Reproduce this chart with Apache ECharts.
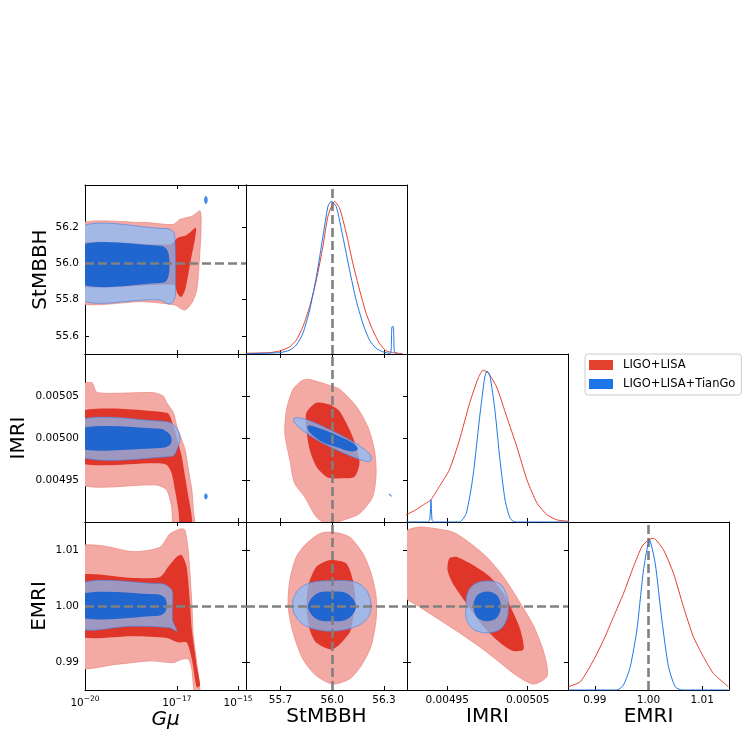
<!DOCTYPE html>
<html>
<head>
<meta charset="utf-8">
<script src="https://cdn.jsdelivr.net/npm/echarts@6/dist/echarts.min.js"></script>
<style>
html, body { margin: 0; padding: 0; background: #fff; }
#main { width: 747px; height: 747px; }
</style>
</head>
<body>
<div id="main"></div>
<script>
// axis ranges and ticks
var gmuRange = [-20, -14.74];
var stmbbhRange = [55.5, 56.433];
var imriRange = [0.0049, 0.0051];
var emriRange = [0.985, 1.015];
var densityRange = [0, 1.107];

var gmuTicks = [-20, -17, -15];
var stmbbhXTicks = [55.7, 56.0, 56.3];
var stmbbhYTicks = [55.6, 55.8, 56.0, 56.2];
var imriXTicks = [0.00495, 0.00505];
var imriYTicks = [0.00495, 0.005, 0.00505];
var emriTicks = [0.99, 1.0, 1.01];

var truthStmbbh = 56.0;
var truthImri = 0.005;
var truthEmri = 1.0;

// Gμ (log10) x StMBBH contours
var gmuStmbbhRed2 = [[-20.3,56.206],[-18.10,56.226],[-17.12,56.215],[-16.90,56.243],[-16.50,56.261],[-16.24,56.289],[-16.21,56.187],[-16.27,56.004],[-16.35,55.854],[-16.51,55.782],[-16.73,55.743],[-16.90,55.754],[-17.06,55.771],[-18.10,55.789],[-20.3,55.794]];
var gmuStmbbhRed1 = [[-20.3,56.104],[-17.22,56.104],[-16.96,56.143],[-16.70,56.154],[-16.47,56.187],[-16.37,56.198],[-16.41,56.132],[-16.54,56.021],[-16.63,55.937],[-16.73,55.854],[-16.86,55.815],[-16.99,55.837],[-17.09,55.882],[-20.3,55.882]];
var gmuStmbbhBlue2 = [[-20.3,56.187],[-17.39,56.193],[-17.12,56.176],[-17.06,56.132],[-17.04,55.854],[-17.09,55.798],[-17.25,55.776],[-17.55,55.798],[-20.3,55.815]];
var gmuStmbbhBlue1 = [[-20.3,56.093],[-17.55,56.098],[-17.32,56.076],[-17.24,56.009],[-17.29,55.921],[-17.45,55.893],[-20.3,55.893]];
var gmuStmbbhBlueIsland = [[-16.05,56.372],[-16.0,56.36],[-16.0,56.34],[-16.05,56.328],[-16.1,56.34],[-16.1,56.36]];

// Gμ x IMRI contours
var gmuImriRed2 = [[-20.3,0.005060],[-19.78,0.005066],[-19.6,0.005054],[-17.78,0.005054],[-17.45,0.005050],[-17.33,0.005042],[-17.11,0.005030],[-17.00,0.005014],[-16.84,0.004998],[-16.73,0.004986],[-16.62,0.004962],[-16.51,0.004938],[-16.46,0.004914],[-16.41,0.004880],[-17.06,0.004880],[-17.17,0.004918],[-17.33,0.004938],[-17.66,0.004944],[-20.3,0.004948]];
var gmuImriRed1 = [[-20.3,0.005030],[-17.33,0.005030],[-17.11,0.005014],[-16.95,0.004994],[-16.84,0.004978],[-16.73,0.004954],[-16.62,0.004930],[-16.51,0.004906],[-16.50,0.004880],[-16.84,0.004880],[-16.95,0.004914],[-17.06,0.004938],[-17.17,0.004958],[-17.33,0.004968],[-17.66,0.004970],[-20.3,0.004972]];
var gmuImriBlue2 = [[-20.3,0.005020],[-17.45,0.005020],[-17.11,0.005016],[-16.90,0.005002],[-17.00,0.004986],[-17.17,0.004978],[-20.3,0.004979]];
var gmuImriBlue1 = [[-20.3,0.005011],[-17.55,0.005011],[-17.25,0.005005],[-17.17,0.004998],[-17.25,0.004991],[-17.55,0.004988],[-20.3,0.004988]];
var gmuImriBlueIsland = [[-16.05,0.004934],[-16.0,0.004932],[-16.0,0.004929],[-16.05,0.004927],[-16.1,0.004929],[-16.1,0.004932]];

// Gμ x EMRI contours
var gmuEmriRed2 = [[-20.3,1.0103],[-19.51,1.0108],[-18.42,1.0097],[-17.55,1.0105],[-17.22,1.0129],[-16.84,1.0138],[-16.73,1.0135],[-16.62,1.0094],[-16.51,1.0005],[-16.46,0.9946],[-16.35,0.9899],[-16.24,0.9840],[-16.41,0.9840],[-16.51,0.9887],[-16.62,0.9905],[-16.84,0.9905],[-17.11,0.9899],[-17.88,0.9902],[-18.96,0.9896],[-20.3,0.9893]];
var gmuEmriRed1 = [[-20.3,1.0052],[-18.42,1.0050],[-17.55,1.0052],[-17.28,1.0070],[-17.00,1.0088],[-16.84,1.0091],[-16.68,1.0070],[-16.57,1.0005],[-16.51,0.9958],[-16.41,0.9917],[-16.35,0.9893],[-16.24,0.9858],[-16.35,0.9855],[-16.51,0.9905],[-16.68,0.9935],[-16.95,0.9935],[-17.33,0.9943],[-18.42,0.9946],[-20.3,0.9949]];
var gmuEmriBlue2 = [[-20.3,1.0037],[-17.55,1.0040],[-17.28,1.0035],[-17.14,1.0025],[-17.14,0.9976],[-17.00,0.9955],[-17.22,0.9961],[-18.42,0.9964],[-20.3,0.9963]];
var gmuEmriBlue1 = [[-20.3,1.0020],[-17.66,1.0021],[-17.40,1.0015],[-17.33,1.0002],[-17.40,0.9988],[-17.66,0.9982],[-20.3,0.9981]];

// StMBBH x IMRI contours
var stmbbhImriRed2 = [[55.859,0.0050699],[55.965,0.0050639],[56.042,0.0050580],[56.138,0.0050379],[56.205,0.0050139],[56.244,0.0049860],[56.254,0.0049580],[56.234,0.0049300],[56.158,0.0049101],[56.061,0.0049020],[55.984,0.0048960],[55.908,0.0049060],[55.840,0.0049300],[55.782,0.0049460],[55.754,0.0049740],[55.725,0.0050060],[55.735,0.0050339],[55.773,0.0050579],[55.821,0.0050679]];
var stmbbhImriRed1 = [[55.908,0.0050420],[55.984,0.0050399],[56.042,0.0050319],[56.100,0.0050100],[56.138,0.0049899],[56.158,0.0049700],[56.129,0.0049540],[56.061,0.0049520],[56.003,0.0049520],[55.965,0.0049540],[55.908,0.0049659],[55.869,0.0049860],[55.850,0.0050100],[55.850,0.0050300]];
var stmbbhImriBlue2 = [[55.782,0.0050240],[55.850,0.0050219],[55.965,0.0050120],[56.081,0.0050000],[56.177,0.0049880],[56.225,0.0049779],[56.215,0.0049719],[56.138,0.0049760],[56.023,0.0049860],[55.908,0.0049980],[55.811,0.0050120],[55.777,0.0050199]];
var stmbbhImriBlue1 = [[55.859,0.0050147],[55.946,0.0050100],[56.042,0.0050019],[56.119,0.0049940],[56.148,0.0049868],[56.110,0.0049839],[56.023,0.0049892],[55.937,0.0049959],[55.869,0.0050067]];
var stmbbhImriBlueIsland = [[56.330,0.0049340],[56.345,0.0049310],[56.342,0.0049300],[56.327,0.0049330]];

// StMBBH x EMRI contours
var stmbbhEmriRed2 = [[56.003,1.01320],[56.100,1.01232],[56.177,1.00938],[56.225,1.00584],[56.254,1.00170],[56.254,0.99758],[56.225,0.99285],[56.167,0.98931],[56.100,0.98696],[56.003,0.98607],[55.908,0.98754],[55.830,0.99050],[55.773,0.99522],[55.744,0.99993],[55.754,1.00465],[55.792,1.00878],[55.850,1.01115],[55.927,1.01292]];
var stmbbhEmriRed1 = [[55.984,1.00819],[56.081,1.00761],[56.119,1.00465],[56.134,1.00112],[56.119,0.99758],[56.100,0.99522],[56.003,0.99227],[55.908,0.99345],[55.869,0.99581],[55.852,0.99935],[55.859,1.00347],[55.908,1.00701]];
var stmbbhEmriBlue2 = [[56.003,1.00453],[56.129,1.00430],[56.196,1.00288],[56.225,1.00023],[56.205,0.99788],[56.138,0.99634],[56.003,0.99550],[55.869,0.99611],[55.801,0.99758],[55.769,0.99993],[55.794,1.00253],[55.869,1.00412]];
var stmbbhEmriBlue1 = [[56.0,1.00258],[56.088,1.00218],[56.138,0.99993],[56.088,0.99766],[56.0,0.99727],[55.909,0.99766],[55.859,0.99993],[55.909,1.00218]];

// IMRI x EMRI contours
var imriEmriRed2 = [[0.0048950,1.01292],[0.0049147,1.01409],[0.0049358,1.01381],[0.0049567,1.01320],[0.0049736,1.01173],[0.0049987,1.00878],[0.0050196,1.00524],[0.0050407,1.00053],[0.0050574,0.99639],[0.0050700,0.99168],[0.0050743,0.98754],[0.0050574,0.98607],[0.0050365,0.98754],[0.0050155,0.98991],[0.0049945,0.99227],[0.0049651,0.99522],[0.0049399,0.99758],[0.0049147,0.99993],[0.0048950,1.00200]];
var imriEmriRed1 = [[0.0049525,1.00850],[0.0049610,1.00878],[0.0049819,1.00731],[0.0050029,1.00524],[0.0050196,1.00230],[0.0050322,0.99876],[0.0050407,0.99581],[0.0050448,0.99227],[0.0050322,0.99196],[0.0050155,0.99345],[0.0049945,0.99639],[0.0049736,1.00053],[0.0049567,1.00407],[0.0049504,1.00643]];
var imriEmriBlue2 = [[0.0049995,1.00448],[0.0050155,1.00395],[0.0050239,1.00200],[0.0050259,0.99993],[0.0050239,0.99758],[0.0050155,0.99581],[0.0049995,0.99522],[0.0049827,0.99581],[0.0049739,0.99758],[0.0049733,0.99993],[0.0049752,1.00235],[0.0049840,1.00395]];
var imriEmriBlue1 = [[0.0049995,1.00258],[0.0050117,1.00191],[0.0050165,0.99993],[0.0050117,0.99795],[0.0049995,0.99727],[0.0049873,0.99795],[0.0049825,0.99993],[0.0049873,1.00191]];

// 1D marginals (peak normalised to 1)
var stmbbhRed = [[55.504,0.005],[55.638,0.009],[55.696,0.020],[55.754,0.048],[55.792,0.092],[55.830,0.179],[55.869,0.311],[55.908,0.486],[55.946,0.705],[55.975,0.902],[56.013,1.0],[56.042,0.957],[56.081,0.792],[56.119,0.595],[56.158,0.420],[56.196,0.267],[56.234,0.158],[56.273,0.070],[56.311,0.022],[56.350,0.009],[56.407,0.002]];
var stmbbhBlue = [[55.504,0.002],[55.696,0.009],[55.754,0.026],[55.792,0.059],[55.830,0.136],[55.869,0.289],[55.908,0.508],[55.946,0.770],[55.975,0.967],[55.994,1.0],[56.023,0.967],[56.061,0.770],[56.100,0.551],[56.138,0.354],[56.177,0.201],[56.215,0.092],[56.254,0.037],[56.292,0.015],[56.331,0.004],[56.340,0.009],[56.346,0.179],[56.354,0.179],[56.360,0.015],[56.379,0.002]];
var imriRed = [[0.0048984,0.046],[0.0049106,0.079],[0.0049232,0.123],[0.0049295,0.145],[0.0049399,0.232],[0.0049525,0.342],[0.0049651,0.539],[0.0049777,0.781],[0.0049882,0.945],[0.0049945,1.0],[0.0050008,0.982],[0.0050113,0.890],[0.0050239,0.693],[0.0050365,0.495],[0.0050491,0.276],[0.0050617,0.123],[0.0050743,0.046],[0.0050869,0.013],[0.0051011,0.005]];
var imriBlue = [[0.0048984,0],[0.0049252,0],[0.0049282,0.013],[0.0049298,0.145],[0.0049311,0.013],[0.0049333,0],[0.0049651,0],[0.0049736,0.057],[0.0049819,0.298],[0.0049903,0.693],[0.0049966,0.956],[0.0049995,0.995],[0.0050029,0.967],[0.0050092,0.737],[0.0050155,0.408],[0.0050218,0.145],[0.0050281,0.024],[0.0050344,0],[0.0051011,0]];
var emriRed = [[0.98507,0.022],[0.98730,0.055],[0.98978,0.198],[0.99164,0.330],[0.99349,0.483],[0.99535,0.637],[0.99721,0.813],[0.99877,0.945],[1.0,0.989],[1.00093,1.0],[1.00279,0.923],[1.00465,0.769],[1.00651,0.549],[1.00836,0.351],[1.01022,0.220],[1.01208,0.110],[1.01487,0.022]];
var emriBlue = [[0.98507,0],[0.99413,0],[0.99535,0.033],[0.99660,0.154],[0.99784,0.396],[0.99907,0.791],[1.00019,0.989],[1.00125,0.835],[1.00249,0.461],[1.00372,0.154],[1.00496,0.022],[1.00621,0],[1.01487,0]];

var FONT = 'DejaVu Sans';
var RED_LIGHT = '#f4aaa4', RED_DARK = '#e0362a';
var BLUE_LIGHT = 'rgba(132,190,252,0.72)', BLUE_DARK = '#2165cf';
var RED_LINE = '#e3402e', BLUE_LINE = '#1c75e6';

var params = {
    gmu: { range: gmuRange, xTicks: gmuTicks, name: 'Gμ', italic: true,
        fmt: function (v) { return '{b|10}{s|−' + Math.abs(v) + '}'; } },
    stmbbh: { range: stmbbhRange, xTicks: stmbbhXTicks, yTicks: stmbbhYTicks, name: 'StMBBH', gap: 34,
        fmt: function (v) { return v.toFixed(1); } },
    imri: { range: imriRange, xTicks: imriXTicks, yTicks: imriYTicks, name: 'IMRI', gap: 56,
        fmt: function (v) { return v.toFixed(5); } },
    emri: { range: emriRange, xTicks: emriTicks, yTicks: emriTicks, name: 'EMRI', gap: 35,
        fmt: function (v) { return v.toFixed(2); } }
};

var colX = [85, 246, 407, 568];
var rowY = [185, 354, 522];
var rowH = [169, 168, 168];

var panels = [
    { r: 0, c: 0, x: 'gmu', y: 'stmbbh' },
    { r: 0, c: 1, x: 'stmbbh', y: null },
    { r: 1, c: 0, x: 'gmu', y: 'imri' },
    { r: 1, c: 1, x: 'stmbbh', y: 'imri' },
    { r: 1, c: 2, x: 'imri', y: null },
    { r: 2, c: 0, x: 'gmu', y: 'emri' },
    { r: 2, c: 1, x: 'stmbbh', y: 'emri' },
    { r: 2, c: 2, x: 'imri', y: 'emri' },
    { r: 2, c: 3, x: 'emri', y: null }
];

var grids = [], xAxes = [], yAxes = [], series = [];
var tickStyle = { color: '#000', width: 1 };
var gmuRich = {
    b: { fontFamily: FONT, fontSize: 10.5, color: '#000', verticalAlign: 'bottom', padding: [3, 0, 0, 0] },
    s: { fontFamily: FONT, fontSize: 7.5, color: '#000', verticalAlign: 'top' }
};

panels.forEach(function (p, g) {
    grids.push({ left: colX[p.c], top: rowY[p.r], width: 161, height: rowH[p.r], containLabel: false });
    var P = params[p.x];
    var diag = p.y === null;
    ['bottom', 'top'].forEach(function (pos) {
        var bottom = pos === 'bottom';
        var label = bottom && p.r === 2;
        xAxes.push({
            type: 'value', gridIndex: g, position: pos, min: P.range[0], max: P.range[1],
            axisLine: { show: true, onZero: false, lineStyle: tickStyle },
            axisTick: { show: bottom || !diag, inside: true, length: 4, customValues: P.xTicks, lineStyle: tickStyle },
            axisLabel: { show: label, customValues: P.xTicks, formatter: P.fmt, fontFamily: FONT, fontSize: 10.5,
                color: '#000', margin: 5, rich: gmuRich },
            splitLine: { show: false },
            name: label ? P.name : '', nameLocation: 'middle', nameGap: 17,
            nameTextStyle: { fontFamily: FONT, fontSize: 20, color: '#000', fontStyle: P.italic ? 'italic' : 'normal' }
        });
    });
    ['left', 'right'].forEach(function (pos) {
        var left = pos === 'left';
        if (diag) {
            yAxes.push({
                type: 'value', gridIndex: g, position: pos, min: densityRange[0], max: densityRange[1],
                axisLine: { show: true, onZero: false, lineStyle: tickStyle },
                axisTick: { show: false }, axisLabel: { show: false }, splitLine: { show: false }
            });
            return;
        }
        var Q = params[p.y];
        var label = left && p.c === 0;
        yAxes.push({
            type: 'value', gridIndex: g, position: pos, min: Q.range[0], max: Q.range[1],
            axisLine: { show: true, onZero: false, lineStyle: tickStyle },
            axisTick: { show: true, inside: true, length: 4, customValues: Q.yTicks, lineStyle: tickStyle },
            axisLabel: { show: label, customValues: Q.yTicks, formatter: Q.fmt, fontFamily: FONT, fontSize: 10.5,
                color: '#000', margin: 6 },
            splitLine: { show: false },
            name: label ? Q.name : '', nameLocation: 'middle', nameGap: Q.gap,
            nameTextStyle: { fontFamily: FONT, fontSize: 20, color: '#000' }
        });
    });
});

function polySeries(g, pts, fill, stroke, z, smooth) {
    return {
        type: 'custom', xAxisIndex: 2 * g, yAxisIndex: 2 * g, clip: true, silent: true, z: z,
        data: pts,
        renderItem: function (params, api) {
            if (params.dataIndex !== 0) return null;
            var shape = pts.map(function (pt) { return api.coord(pt); });
            return { type: 'polygon', shape: { points: shape, smooth: smooth },
                style: { fill: fill, stroke: stroke, lineWidth: 0.8 } };
        }
    };
}

function contours(g, red2, red1, blue2, blue1) {
    series.push(polySeries(g, red2, RED_LIGHT, '#ee8c84', 1, 0.25));
    series.push(polySeries(g, red1, RED_DARK, null, 2, 0.25));
    series.push(polySeries(g, blue2, BLUE_LIGHT, 'rgba(70,130,230,0.8)', 3, 0.35));
    series.push(polySeries(g, blue1, BLUE_DARK, null, 4, 0.35));
}

function lineSeries(g, name, pts, color) {
    return {
        type: 'line', name: name, xAxisIndex: 2 * g, yAxisIndex: 2 * g, data: pts, color: color,
        showSymbol: false, clip: true, silent: true, z: 5, smooth: 0.2,
        lineStyle: { color: color, width: 1 }
    };
}

function truthSeries(g, key, value) {
    var d = {};
    d[key] = value;
    return {
        type: 'line', xAxisIndex: 2 * g, yAxisIndex: 2 * g, data: [], silent: true, z: 6,
        markLine: { symbol: ['none', 'none'], silent: true, label: { show: false }, animation: false,
            lineStyle: { color: '#808080', width: 2.6, type: [9, 4], opacity: 1 }, data: [d] }
    };
}

contours(0, gmuStmbbhRed2, gmuStmbbhRed1, gmuStmbbhBlue2, gmuStmbbhBlue1);
series.push(polySeries(0, gmuStmbbhBlueIsland, '#3d8be8', null, 4, 0.5));
contours(2, gmuImriRed2, gmuImriRed1, gmuImriBlue2, gmuImriBlue1);
series.push(polySeries(2, gmuImriBlueIsland, '#3d8be8', null, 4, 0.5));
contours(3, stmbbhImriRed2, stmbbhImriRed1, stmbbhImriBlue2, stmbbhImriBlue1);
series.push(polySeries(3, stmbbhImriBlueIsland, '#5a96e6', null, 4, 0.3));
contours(5, gmuEmriRed2, gmuEmriRed1, gmuEmriBlue2, gmuEmriBlue1);
contours(6, stmbbhEmriRed2, stmbbhEmriRed1, stmbbhEmriBlue2, stmbbhEmriBlue1);
contours(7, imriEmriRed2, imriEmriRed1, imriEmriBlue2, imriEmriBlue1);

series.push(lineSeries(1, 'LIGO+LISA', stmbbhRed, RED_LINE));
series.push(lineSeries(1, 'LIGO+LISA+TianGo', stmbbhBlue, BLUE_LINE));
series.push(lineSeries(4, 'LIGO+LISA', imriRed, RED_LINE));
series.push(lineSeries(4, 'LIGO+LISA+TianGo', imriBlue, BLUE_LINE));
series.push(lineSeries(8, 'LIGO+LISA', emriRed, RED_LINE));
series.push(lineSeries(8, 'LIGO+LISA+TianGo', emriBlue, BLUE_LINE));

series.push(truthSeries(0, 'yAxis', truthStmbbh));
series.push(truthSeries(1, 'xAxis', truthStmbbh));
series.push(truthSeries(2, 'yAxis', truthImri));
series.push(truthSeries(3, 'xAxis', truthStmbbh));
series.push(truthSeries(3, 'yAxis', truthImri));
series.push(truthSeries(4, 'xAxis', truthImri));
series.push(truthSeries(5, 'yAxis', truthEmri));
series.push(truthSeries(6, 'xAxis', truthStmbbh));
series.push(truthSeries(6, 'yAxis', truthEmri));
series.push(truthSeries(7, 'xAxis', truthImri));
series.push(truthSeries(7, 'yAxis', truthEmri));
series.push(truthSeries(8, 'xAxis', truthEmri));

var chart = echarts.init(document.getElementById('main'), null, { renderer: 'canvas' });
chart.setOption({
    animation: false,
    backgroundColor: '#fff',
    grid: grids,
    xAxis: xAxes,
    yAxis: yAxes,
    legend: {
        data: [{ name: 'LIGO+LISA', icon: 'rect' }, { name: 'LIGO+LISA+TianGo', icon: 'rect' }],
        orient: 'vertical', left: 585, top: 354,
        itemWidth: 24, itemHeight: 10, itemGap: 7,
        padding: [5, 6, 5, 4],
        borderColor: '#cccccc', borderWidth: 1, borderRadius: 3,
        selectedMode: false,
        textStyle: { fontFamily: FONT, fontSize: 11.5, color: '#000', padding: [0, 0, 0, 5] }
    },
    series: series
});
</script>
</body>
</html>
